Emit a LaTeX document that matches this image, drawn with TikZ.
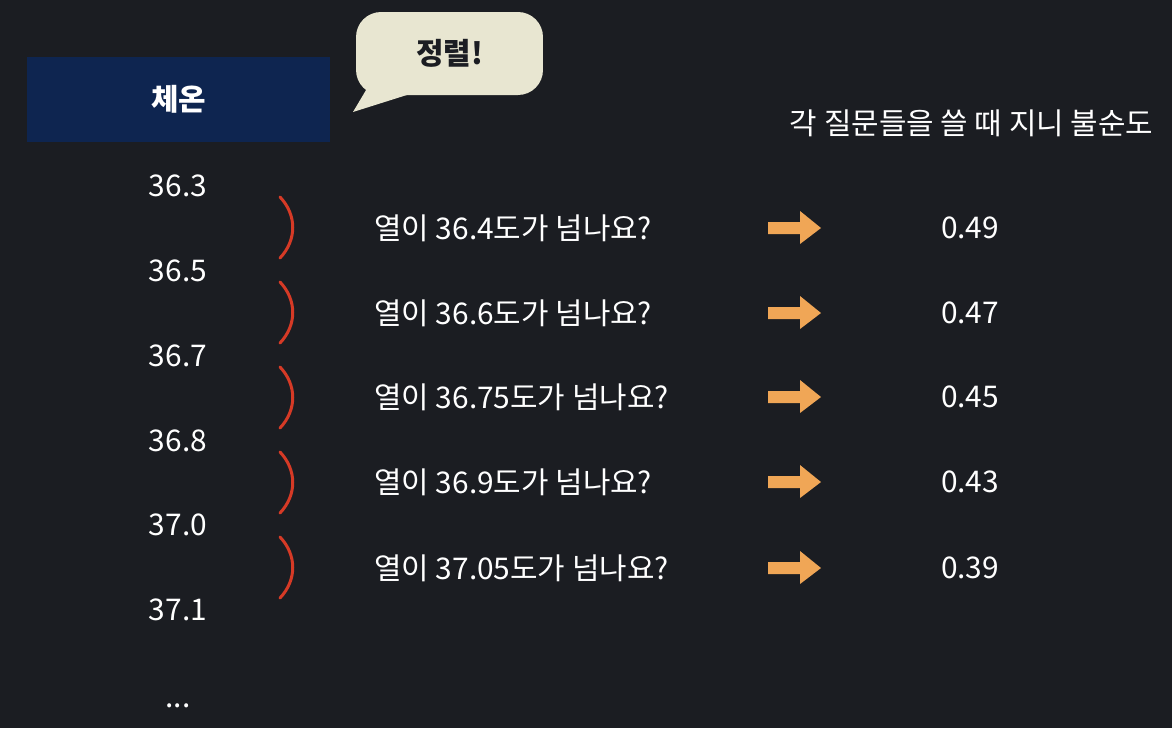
\documentclass[tikz,border=0pt]{standalone}
\usepackage{fontspec}
\setmainfont{Noto Sans CJK KR}
\definecolor{bgdark}{HTML}{1B1D22}
\definecolor{headnavy}{HTML}{0E2550}
\definecolor{bubblecream}{HTML}{E8E6D1}
\definecolor{bracketred}{HTML}{D63A26}
\definecolor{arroworange}{HTML}{F0A656}
\tikzset{
  numtxt/.style={text=white,font=\fontsize{17}{20}\selectfont},
  asktxt/.style={text=white,anchor=west,font=\fontsize{17}{20}\selectfont},
  gapbracket/.style={color=bracketred,line width=1.7pt,line cap=round},
  orangearrow/.style={fill=arroworange}
}

\begin{document}
\begin{tikzpicture}[x=0.02cm,y=-0.02cm]
   \fill[bgdark] (0,0) rectangle (1172,728);
   \useasboundingbox (0,0) rectangle (1172,728);
   % header and sorted values
   \node[fill=headnavy,minimum width=6.06cm,minimum height=1.7cm,text=white,
     font=\bfseries\fontsize{17}{20}\selectfont] (temphead) at (178.5,99.5) {체온};
   \node[numtxt] (t1) at (178,186) {36.3};
   \node[numtxt] (t2) at (178,271) {36.5};
   \node[numtxt] (t3) at (178,356) {36.7};
   \node[numtxt] (t4) at (178,441) {36.8};
   \node[numtxt] (t5) at (178,525) {37.0};
   \node[numtxt] (t6) at (178,610) {37.1};
   \node[numtxt] (tmore) at (178,706) {...};
   % speech bubble
   \fill[bubblecream] (353,112) -- (372,80) -- (410,94) -- cycle;
   \node[fill=bubblecream,rounded corners=0.5cm,minimum width=3.74cm,minimum height=1.66cm,
     text=bgdark,font=\bfseries\fontsize{17}{20}\selectfont] (sortnote) at (449.5,53.5) {정렬!};
   % brackets between neighbours
   \draw[gapbracket] (280,197) .. controls (297,215) and (297,240) .. (280,258);
   \draw[gapbracket] (280,282) .. controls (297,300) and (297,325) .. (280,343);
   \draw[gapbracket] (280,367) .. controls (297,385) and (297,410) .. (280,428);
   \draw[gapbracket] (280,452) .. controls (297,470) and (297,495) .. (280,513);
   \draw[gapbracket] (280,537) .. controls (297,555) and (297,580) .. (280,598);
   % questions
   \node[asktxt] (q1) at (368,228) {열이 36.4도가 넘나요?};
   \node[asktxt] (q2) at (368,313) {열이 36.6도가 넘나요?};
   \node[asktxt] (q3) at (368,397) {열이 36.75도가 넘나요?};
   \node[asktxt] (q4) at (368,482) {열이 36.9도가 넘나요?};
   \node[asktxt] (q5) at (368,568) {열이 37.05도가 넘나요?};
   % arrows
   \fill[orangearrow] (768,222) -- (800,222) -- (800,211) -- (821,228) -- (800,244) -- (800,234) -- (768,234) -- cycle;
   \fill[orangearrow] (768,307) -- (800,307) -- (800,296) -- (821,313) -- (800,329) -- (800,319) -- (768,319) -- cycle;
   \fill[orangearrow] (768,391) -- (800,391) -- (800,380) -- (821,397) -- (800,413) -- (800,403) -- (768,403) -- cycle;
   \fill[orangearrow] (768,476) -- (800,476) -- (800,465) -- (821,482) -- (800,498) -- (800,488) -- (768,488) -- cycle;
   \fill[orangearrow] (768,562) -- (800,562) -- (800,551) -- (821,568) -- (800,584) -- (800,574) -- (768,574) -- cycle;
   % gini values
   \node[numtxt] (ginihead) at (971.5,123) {각 질문들을 쓸 때 지니 불순도};
   \node[numtxt] (g1) at (970,228) {0.49};
   \node[numtxt] (g2) at (970,313) {0.47};
   \node[numtxt] (g3) at (970,397) {0.45};
   \node[numtxt] (g4) at (970,482) {0.43};
   \node[numtxt] (g5) at (970,568) {0.39};
 \end{tikzpicture}
\end{document}
